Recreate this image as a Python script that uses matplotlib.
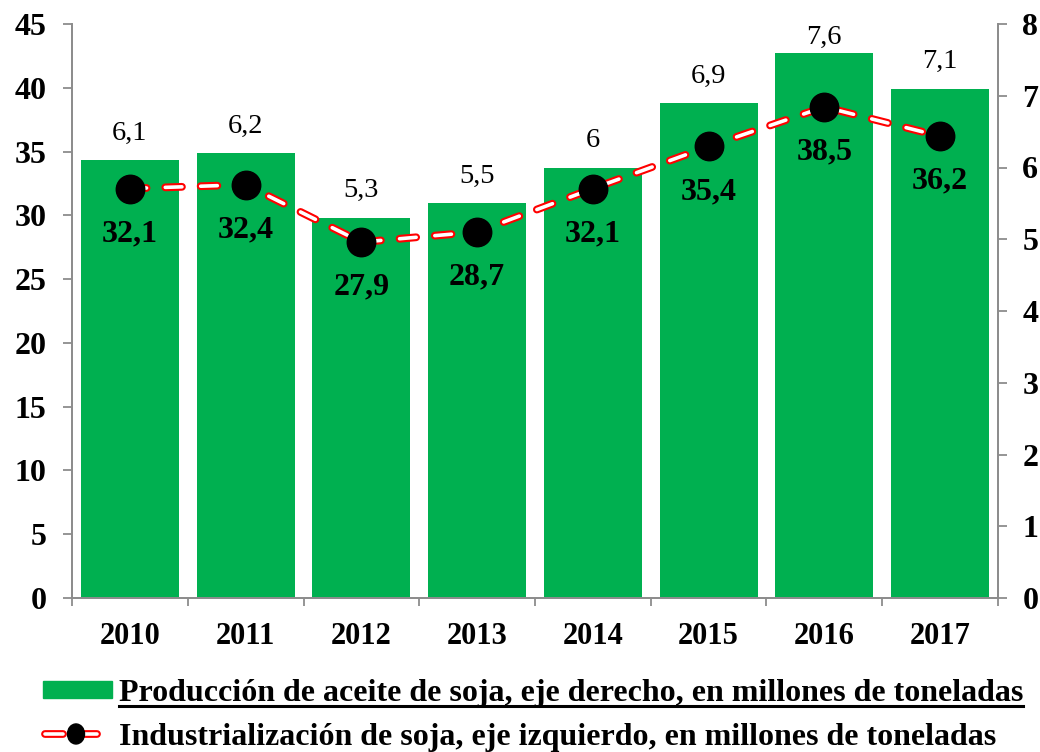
import matplotlib
matplotlib.use('Agg')
import matplotlib.pyplot as plt
from matplotlib.legend_handler import HandlerBase
from matplotlib.patches import Rectangle, Ellipse
from matplotlib.lines import Line2D
import numpy as np

years = ['2010', '2011', '2012', '2013', '2014', '2015', '2016', '2017']
aceite = [6.1, 6.2, 5.3, 5.5, 6.0, 6.9, 7.6, 7.1]
industrializacion = [32.1, 32.4, 27.9, 28.7, 32.1, 35.4, 38.5, 36.2]
left_ticks = [0, 5, 10, 15, 20, 25, 30, 35, 40, 45]
right_ticks = [0, 1, 2, 3, 4, 5, 6, 7, 8]
label_aceite = 'Producción de aceite de soja, eje derecho, en millones de toneladas'
label_indust = 'Industrialización de soja, eje izquierdo, en millones de toneladas'

plt.rcParams['font.family'] = ['Liberation Serif', 'DejaVu Serif']
plt.rcParams['lines.scale_dashes'] = False

GREEN = '#00B050'
GRAY = '#8C8C8C'
DPI = 100
W, H = 1040, 752

def fmt(v):
    s = ('%.1f' % v)
    if s.endswith('.0'):
        s = s[:-2]
    return s.replace('.', ',')

fig = plt.figure(figsize=(W / DPI, H / DPI), dpi=DPI)
ax = fig.add_axes([72 / W, 1 - 598 / H, (998 - 72) / W, (598 - 24) / H])
ax2 = ax.twinx()

x = np.arange(len(years))
ax2.bar(x, aceite, width=0.845, color=GREEN, zorder=2)
ax2.set_ylim(0, 8)
ax.set_ylim(0, 45)
ax.set_xlim(-0.5, len(years) - 0.5)

ax.set_zorder(ax2.get_zorder() + 1)
ax.patch.set_visible(False)

dash = (12.0, 13.5)
ax.plot(x, industrializacion, color='red', lw=5.6, dashes=dash,
        dash_capstyle='round', zorder=3)
ax.plot(x, industrializacion, color='white', lw=2.6, dashes=dash,
        dash_capstyle='round', zorder=4)
ax.plot(x, industrializacion, ls='none', marker='o', ms=20.5,
        color='black', mec='black', zorder=5)

# line labels (below markers)
for xi, v in zip(x, industrializacion):
    ax.annotate(fmt(v), (xi, v), xytext=(0, -32.4), textcoords='offset points',
                ha='center', va='center', fontsize=23, fontweight='bold', zorder=6)

# bar labels (above bars)
px_per_unit = (598 - 24) / 8.0
for xi, v in zip(x, aceite):
    yc = min(v + 27 / px_per_unit, 8 - 13 / px_per_unit)
    ax2.text(xi, yc, fmt(v), ha='center', va='center', fontsize=20.5)

# axes styling
for a in (ax, ax2):
    a.spines['top'].set_visible(False)
    for s in ('left', 'right', 'bottom'):
        a.spines[s].set_color(GRAY)
        a.spines[s].set_linewidth(1.3)

ax.set_yticks(left_ticks)
ax.set_yticklabels([str(t) for t in left_ticks], fontsize=23, fontweight='bold')
ax.tick_params(axis='y', direction='out', length=6.5, width=1.3, color=GRAY, pad=12)

ax2.set_yticks(right_ticks)
ax2.set_yticklabels([str(t) for t in right_ticks], fontsize=23, fontweight='bold')
ax2.tick_params(axis='y', direction='out', length=6.5, width=1.3, color=GRAY, pad=11)

ax.set_xticks(np.arange(-0.5, len(years), 1.0))
ax.tick_params(axis='x', which='major', direction='out', length=6, width=1.3,
               color=GRAY, labelbottom=False)
ax.set_xticks(x, minor=True)
ax.set_xticklabels(years, minor=True, fontsize=22, fontweight='bold')
ax.tick_params(axis='x', which='minor', length=0, pad=17)
ax2.tick_params(axis='x', which='both', length=0, labelbottom=False)


class HandlerIndust(HandlerBase):
    def create_artists(self, legend, orig_handle, xdescent, ydescent,
                       width, height, fontsize, trans):
        cy = height / 2 - ydescent
        p = 0.72
        arts = []
        for x0, x1 in ((1.5, 19.5), (32.5, 53.5)):
            for lw, c in ((5.6, 'red'), (2.6, 'white')):
                ln = Line2D([x0 * p - xdescent, x1 * p - xdescent], [cy, cy], color=c,
                            lw=lw, solid_capstyle='round', transform=trans)
                arts.append(ln)
        el = Ellipse((33 * p - xdescent, cy), 17 * p, 20 * p, color='black', transform=trans)
        arts.append(el)
        return arts


class HandlerPatchBox(HandlerBase):
    def create_artists(self, legend, orig_handle, xdescent, ydescent,
                       width, height, fontsize, trans):
        r = Rectangle((-xdescent, -ydescent), width, height, color=GREEN, transform=trans)
        return [r]


patch_proxy = Rectangle((0, 0), 1, 1, color=GREEN)
line_proxy = Line2D([], [], color='red')
fs_leg = 23
em = fs_leg / 72 * DPI
leg = fig.legend([patch_proxy, line_proxy], [label_aceite, label_indust],
                 handler_map={Rectangle: HandlerPatchBox(), Line2D: HandlerIndust()},
                 loc='upper left', bbox_to_anchor=(43 / W, 1 - 679 / H),
                 frameon=False, borderpad=0, borderaxespad=0,
                 handlelength=69 / em, handleheight=15 / em,
                 handletextpad=7 / em, labelspacing=0.48,
                 prop={'size': fs_leg, 'weight': 'bold'})

fig.canvas.draw()
bb = leg.get_texts()[0].get_window_extent()
fig.add_artist(Line2D([bb.x0 / W, bb.x1 / W], [(bb.y0 + 2) / H, (bb.y0 + 2) / H],
                      transform=fig.transFigure, color='black', lw=2.2))

fig.savefig('out.png', dpi=DPI)
